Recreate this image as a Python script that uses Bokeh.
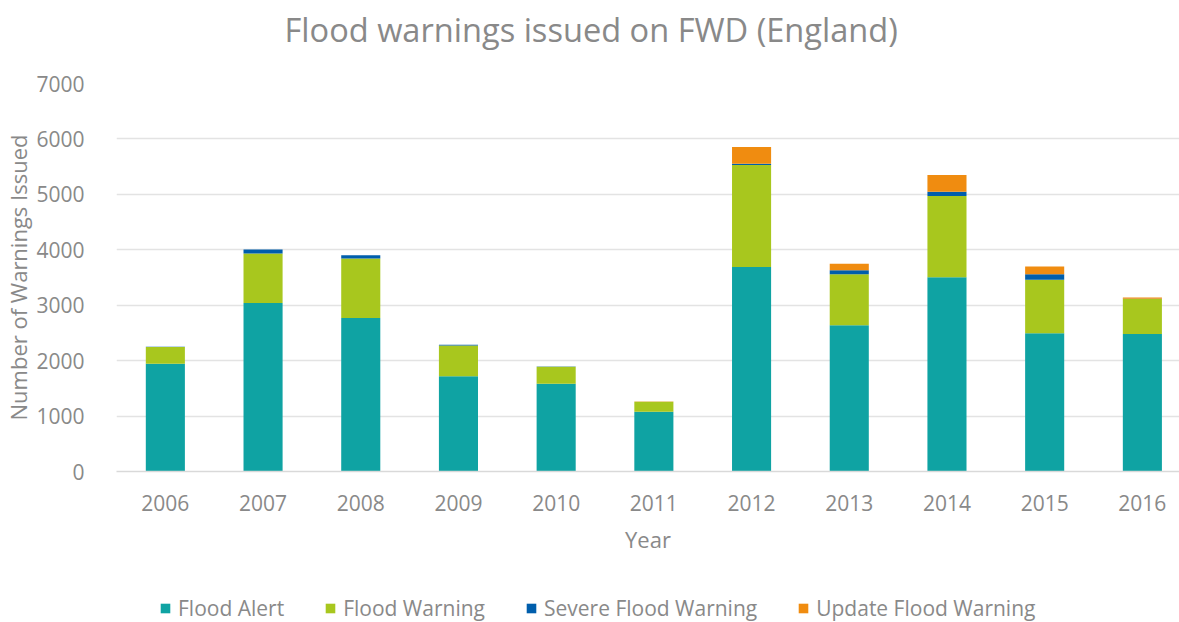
from bokeh.plotting import figure
from bokeh.layouts import column
from bokeh.models import ColumnDataSource, FixedTicker, Range1d, Label
from bokeh.embed import file_html
from bokeh.resources import INLINE

# Flood warnings issued per year, by warning type
years = [2006, 2007, 2008, 2009, 2010, 2011, 2012, 2013, 2014, 2015, 2016]
flood_alert = [1945, 3040, 2770, 1720, 1585, 1080, 3690, 2640, 3505, 2495, 2480]
flood_warning = [300, 895, 1075, 555, 305, 180, 1840, 920, 1465, 965, 630]
severe_flood_warning = [5, 70, 55, 10, 5, 0, 20, 70, 75, 100, 5]
update_flood_warning = [0, 0, 0, 0, 0, 5, 305, 120, 305, 140, 25]

series = ["Flood Alert", "Flood Warning", "Severe Flood Warning", "Update Flood Warning"]
colors = ["#0fa3a3", "#a8c71e", "#005eac", "#f08c10"]
y_ticks = [0, 1000, 2000, 3000, 4000, 5000, 6000, 7000]
title_text = "Flood warnings issued on FWD (England)"

TEXT = "#898989"
FONT = "Open Sans"
W = 1179

source = ColumnDataSource(dict(
    x=years,
    alert=flood_alert,
    warning=flood_warning,
    severe=severe_flood_warning,
    update=update_flood_warning,
))
stack_cols = ["alert", "warning", "severe", "update"]


def strip(height):
    """A bare full-width canvas used for the heading and the key."""
    s = figure(
        width=W, height=height,
        x_range=Range1d(0, 1), y_range=Range1d(0, 1),
        output_backend="svg", toolbar_location=None,
        x_axis_type=None, y_axis_type=None, min_border=0,
    )
    s.outline_line_color = None
    s.xgrid.visible = False
    s.ygrid.visible = False
    return s


# Heading (the column lines its frame up with the chart's plot area)
head = strip(60)
head.add_layout(Label(
    x=168, y=31, x_units="screen", y_units="screen", text=title_text,
    text_font=FONT, text_font_size="32.6px", text_color=TEXT,
    text_baseline="alphabetic",
))

# Main chart
p = figure(
    width=W, height=530,
    x_range=Range1d(2005.5, 2016.38), y_range=Range1d(0, 7000),
    output_backend="svg", toolbar_location=None,
    min_border_left=116, min_border_right=0,
    min_border_top=23, min_border_bottom=119,
)
p.outline_line_color = None

p.vbar_stack(stack_cols, x="x", width=0.4, color=colors, line_color=None, source=source)

p.xaxis.ticker = FixedTicker(ticks=years)
p.xaxis.major_label_overrides = {y: str(y) for y in years}
p.yaxis.ticker = FixedTicker(ticks=y_ticks)
for ax in (p.xaxis, p.yaxis):
    ax.major_tick_line_color = None
    ax.minor_tick_line_color = None
    ax.major_label_text_font = FONT
    ax.major_label_text_font_size = "21px"
    ax.major_label_text_color = TEXT
    ax.axis_label_text_font = FONT
    ax.axis_label_text_font_size = "22px"
    ax.axis_label_text_font_style = "normal"
    ax.axis_label_text_color = TEXT
p.yaxis.axis_line_color = None
p.xaxis.axis_line_color = "#d9d9d9"
p.xaxis.axis_line_width = 1.5
p.yaxis.major_label_standoff = 26
p.xaxis.major_label_standoff = 17
p.xaxis.axis_label = "Year"
p.yaxis.axis_label = "Number of Warnings Issued"
p.xaxis.axis_label_standoff = 10
p.yaxis.axis_label_standoff = 0

p.xgrid.grid_line_color = None
p.ygrid.grid_line_color = "#e3e3e3"
p.ygrid.grid_line_width = 1.5

# Key: same stacked series, only their legend entries fall inside this strip
key = strip(32)
key.vbar_stack(stack_cols, x="x", width=0.4, color=colors, line_color=None,
               source=source, legend_label=series)

lg = key.legend[0]
lg.orientation = "horizontal"
lg.location = (43, 0)
lg.padding = 0
lg.margin = 0
lg.spacing = 40
lg.border_line_color = None
lg.background_fill_alpha = 0
lg.glyph_width = 12
lg.glyph_height = 12
lg.label_standoff = 7
lg.label_text_font = FONT
lg.label_text_font_size = "21px"
lg.label_text_color = TEXT

layout = column(head, p, key, spacing=0)
open("out.html", "w").write(file_html(layout, INLINE))
